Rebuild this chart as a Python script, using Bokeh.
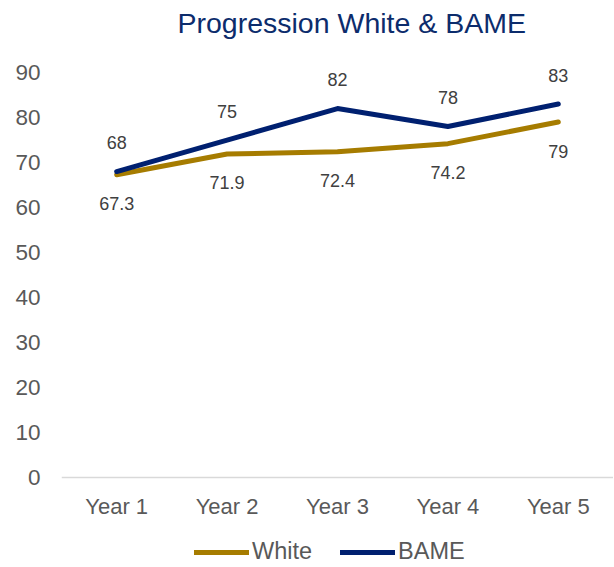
from bokeh.plotting import figure
from bokeh.models import FactorRange, Range1d, FixedTicker, Legend, LegendItem, Title, ColumnDataSource
from bokeh.core.properties import value
from bokeh.embed import file_html
from bokeh.resources import INLINE

years = ["Year 1", "Year 2", "Year 3", "Year 4", "Year 5"]
white = [67.3, 71.9, 72.4, 74.2, 79]
bame = [68, 75, 82, 78, 83]
white_labels = ["67.3", "71.9", "72.4", "74.2", "79"]
bame_labels = ["68", "75", "82", "78", "83"]
y_ticks = [0, 10, 20, 30, 40, 50, 60, 70, 80, 90]

GOLD = "#A67C00"
NAVY = "#002070"
FONT = "Liberation Sans"

src = ColumnDataSource(dict(x=years, white=white, bame=bame, wl=white_labels, bl=bame_labels))

p = figure(frame_width=552, frame_height=523, x_range=FactorRange(*years), y_range=Range1d(-19.556, 96.68),
           output_backend="svg", toolbar_location=None,
           min_border_left=61, min_border_right=0, min_border_top=41, min_border_bottom=0)
p.title = Title(text="Progression White & BAME", align="left", offset=116, standoff=8,
                vertical_align="bottom",
                text_font=FONT, text_font_size="28.5px", text_font_style="normal",
                text_color="#0C2C6C")
p.outline_line_color = None
p.xgrid.visible = False
p.ygrid.visible = False

p.yaxis.ticker = FixedTicker(ticks=y_ticks)
p.yaxis.axis_line_color = None
p.yaxis.major_tick_line_color = None
p.yaxis.minor_tick_line_color = None
p.yaxis.major_label_standoff = 15
p.yaxis.major_label_text_font = FONT
p.yaxis.major_label_text_font_size = "22.5px"
p.yaxis.major_label_text_color = "#595959"

p.xaxis.fixed_location = 0
p.xaxis.axis_line_color = "#D9D9D9"
p.xaxis.axis_line_width = 1.5
p.xaxis.major_tick_line_color = None
p.xaxis.minor_tick_line_color = None
p.xaxis.major_label_standoff = 10
p.xaxis.major_label_text_font = FONT
p.xaxis.major_label_text_font_size = "22px"
p.xaxis.major_label_text_color = "#595959"

rw = p.line("x", "white", source=src, line_color=GOLD, line_width=5, line_cap="round", line_join="round")
rb = p.line("x", "bame", source=src, line_color=NAVY, line_width=5, line_cap="round", line_join="round")

p.text("x", "white", text="wl", source=src, y_offset=29, text_align="center", text_baseline="middle",
       text_font=value(FONT), text_font_size="18px", text_color="#404040")
p.text("x", "bame", text="bl", source=src, y_offset=-29, text_align="center", text_baseline="middle",
       text_font=value(FONT), text_font_size="18px", text_color="#404040")

legend = Legend(items=[LegendItem(label="White", renderers=[rw]), LegendItem(label="BAME", renderers=[rb])],
                orientation="horizontal", location=(133, 0),
                glyph_width=55, glyph_height=16, label_standoff=3, spacing=28,
                label_text_font=FONT, label_text_font_size="23.5px", label_text_color="#595959",
                border_line_color=None, background_fill_alpha=0, padding=0, margin=0)
p.add_layout(legend, "center")

open("out.html", "w").write(file_html(p, INLINE))
